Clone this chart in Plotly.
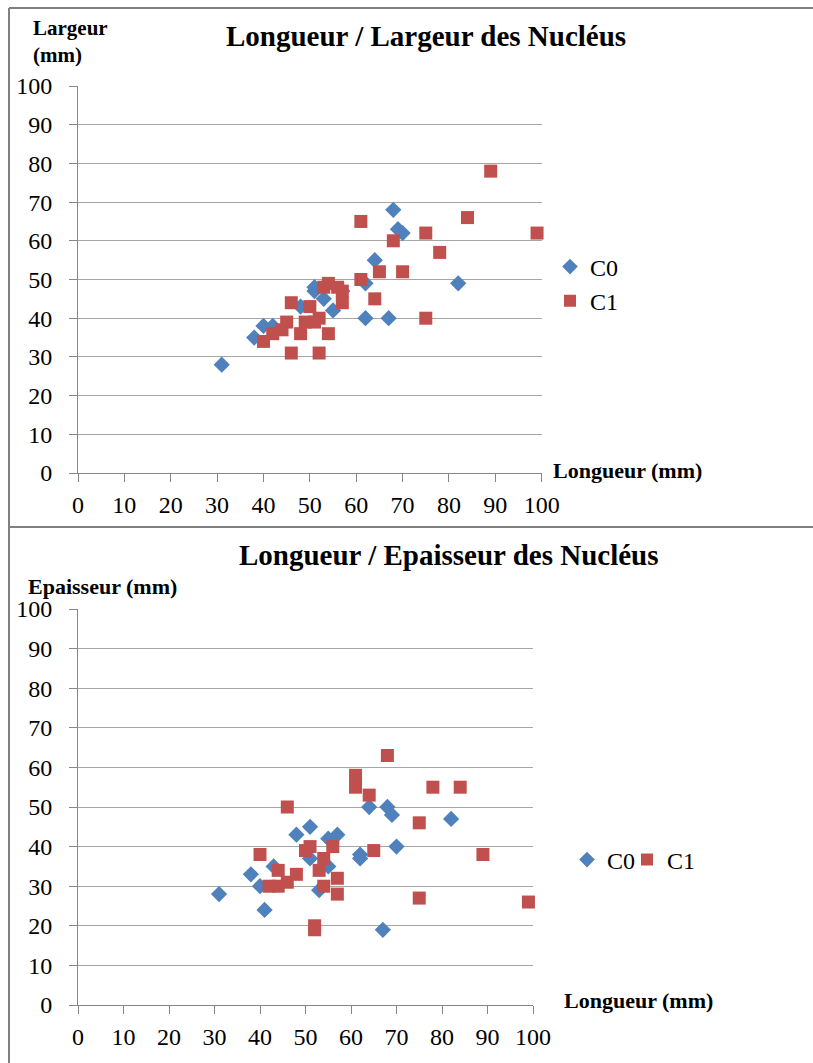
import plotly.graph_objects as go

# ---- Chart 1 : Longueur / Largeur ----
c0_longueur_1 = [31, 38, 40, 42, 48, 51, 51, 53, 55, 57, 62, 62, 64, 67, 68, 69, 70, 82]
c0_largeur_1 = [28, 35, 38, 38, 43, 47, 48, 45, 42, 47, 49, 40, 55, 40, 68, 63, 62, 49]

c1_longueur_1 = [61, 68, 65, 70, 61, 64, 53, 54, 56, 57, 57, 46, 50, 52, 49, 51, 45, 44,
                 42, 40, 48, 54, 46, 52, 89, 84, 99, 75, 78, 75]
c1_largeur_1 = [65, 60, 52, 52, 50, 45, 48, 49, 48, 47, 44, 44, 43, 40, 39, 39, 39, 37,
                36, 34, 36, 36, 31, 31, 78, 66, 62, 62, 57, 40]

# ---- Chart 2 : Longueur / Epaisseur ----
c0_longueur_2 = [31, 38, 40, 41, 43, 48, 51, 51, 55, 57, 53, 55, 62, 62, 64, 68, 69, 70, 67, 82]
c0_epaisseur_2 = [28, 33, 30, 24, 35, 43, 45, 37, 42, 43, 29, 35, 38, 37, 50, 50, 48, 40, 19, 47]

c1_longueur_2 = [68, 61, 61, 64, 46, 40, 50, 51, 56, 54, 53, 65, 44, 48, 42, 44, 46, 57,
                 54, 57, 52, 52, 78, 84, 75, 89, 75, 99]
c1_epaisseur_2 = [63, 58, 55, 53, 50, 38, 39, 40, 40, 37, 34, 39, 34, 33, 30, 30, 31, 32,
                  30, 28, 20, 19, 55, 55, 46, 38, 27, 26]

ticks = list(range(0, 101, 10))
tick_text = [str(t) for t in ticks]

BLUE = "#4F81BD"
RED = "#C0504D"
SERIF = "Liberation Serif, Times New Roman, DejaVu Serif, serif"
W, H = 813, 1063

fig = go.Figure()

def add_series(x, y, name, color, symbol, size, xa, ya, legend):
    fig.add_trace(go.Scatter(
        x=x, y=y, mode="markers", name=name, xaxis=xa, yaxis=ya,
        legend=legend, showlegend=True, cliponaxis=False,
        marker=dict(color=color, symbol=symbol, size=size, line=dict(width=0)),
    ))

add_series(c0_longueur_1, c0_largeur_1, "C0", BLUE, "diamond", 12.5, "x", "y", "legend")
add_series(c1_longueur_1, c1_largeur_1, "C1", RED, "square", 13, "x", "y", "legend")
add_series(c0_longueur_2, c0_epaisseur_2, "C0", BLUE, "diamond", 12.5, "x2", "y2", "legend2")
add_series(c1_longueur_2, c1_epaisseur_2, "C1", RED, "square", 13, "x2", "y2", "legend3")

def px_x(p):
    return p / W

def px_y(p):
    return 1 - p / H

axis_common = dict(
    range=[0, 100], tickmode="array", tickvals=ticks, ticktext=tick_text,
    showline=True, linecolor="#868686", linewidth=1,
    ticks="outside", ticklen=8, tickcolor="#868686", tickwidth=1,
    tickfont=dict(family=SERIF, size=24, color="black"),
    zeroline=False, fixedrange=True,
)

xaxis_style = dict(axis_common, showgrid=False, ticklabelstandoff=2)
yaxis_style = dict(axis_common, showgrid=True, gridcolor="#A6A6A6", gridwidth=1,
                   ticklabelstandoff=12)

legend_common = dict(
    xanchor="left", yanchor="middle",
    font=dict(family=SERIF, size=24, color="black"),
    bgcolor="rgba(0,0,0,0)", itemsizing="constant", tracegroupgap=0,
)

fig.update_layout(
    autosize=True,
    margin=dict(l=0, r=0, t=0, b=0, autoexpand=False),
    paper_bgcolor="white", plot_bgcolor="white",
    xaxis=dict(xaxis_style, domain=[px_x(78), px_x(541.7)], anchor="y"),
    yaxis=dict(yaxis_style, domain=[px_y(473), px_y(86)], anchor="x"),
    xaxis2=dict(xaxis_style, domain=[px_x(78), px_x(533)], anchor="y2"),
    yaxis2=dict(yaxis_style, domain=[px_y(1005), px_y(609)], anchor="x2"),
    legend=dict(legend_common, x=px_x(550), y=px_y(284), orientation="v"),
    legend2=dict(legend_common, x=px_x(567), y=px_y(860), orientation="h"),
    legend3=dict(legend_common, x=px_x(627), y=px_y(860), orientation="h"),
    showlegend=True,
)

def text(x, y, s, size, bold=True, xanchor="left", yanchor="middle"):
    fig.add_annotation(
        x=px_x(x), y=px_y(y), xref="paper", yref="paper", text=s, showarrow=False,
        xanchor=xanchor, yanchor=yanchor, align="left",
        font=dict(family=SERIF, size=size, color="black",
                  weight="bold" if bold else "normal"),
    )

text(426, 36, "Longueur / Largeur des Nucléus", 29, xanchor="center")
text(449, 555, "Longueur / Epaisseur des Nucléus", 29, xanchor="center")
text(31, 42, "Largeur<br>(mm)", 21)
text(551, 470, "Longueur (mm)", 22)
text(26, 586, "Epaisseur (mm)", 22)
text(562, 1000, "Longueur (mm)", 22)

border = dict(color="#808080", width=2)
fig.add_shape(type="line", xref="paper", yref="paper", x0=px_x(9), x1=1, y0=px_y(8), y1=px_y(8), line=border)
fig.add_shape(type="line", xref="paper", yref="paper", x0=px_x(9), x1=px_x(9), y0=px_y(8), y1=0, line=border)
fig.add_shape(type="line", xref="paper", yref="paper", x0=px_x(9), x1=1, y0=px_y(527), y1=px_y(527), line=border)

fig.write_html(
    "out.html",
    default_width="100vw",
    default_height="100vh",
    config={"displayModeBar": False, "responsive": True},
    post_script=(
        "document.documentElement.style.margin='0px';"
        "document.body.style.margin='0px';"
        "document.body.style.overflow='hidden';"
        "var gd=document.getElementById('{plot_id}');"
        "gd.style.width='100vw';gd.style.height='100vh';"
        "Plotly.Plots.resize(gd);"
    ),
)
